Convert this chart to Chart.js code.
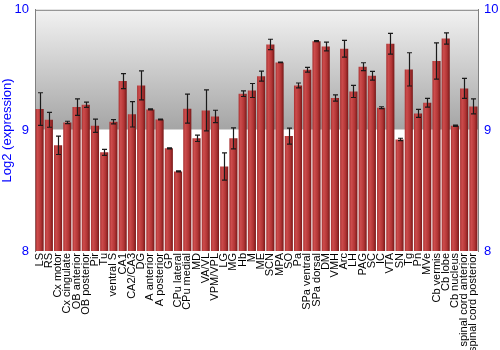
<!DOCTYPE html>
<html>
<head>
<meta charset="utf-8">
<script src="https://cdn.jsdelivr.net/npm/chart.js@4"></script>
<style>
  html, body { margin: 0; padding: 0; background: #fff; }
  #wrap { width: 500px; height: 350px; }
</style>
</head>
<body>
<div id="wrap"><canvas id="chart"></canvas></div>
<script>
let regions = ['LS', 'RS', 'Cx motor', 'Cx cingulate', 'OB anterior', 'OB posterior', 'Pir', 'Tu',
  'ventral S', 'CA1', 'CA2/CA3', 'DG', 'A anterior', 'A posterior', 'GP', 'CPu lateral', 'CPu medial',
  'MD', 'VA/VL', 'VPM/VPL', 'LG', 'MG', 'Hb', 'M', 'ME', 'SCN', 'MPA', 'SO', 'Pa', 'SPa ventral',
  'SPa dorsal', 'DM', 'VMH', 'Arc', 'LH', 'PAG', 'SC', 'IC', 'VTA', 'SN', 'Tg', 'Pn', 'MVe',
  'Cb vermis', 'Cb lobe', 'Cb nucleus', 'spinal cord anterior', 'spinal cord posterior'];

let expression = [9.177, 9.088, 8.876, 9.066, 9.193, 9.213, 9.039, 8.818,
  9.072, 9.409, 9.133, 9.373, 9.174, 9.091, 8.851, 8.660, 9.180,
  8.934, 9.166, 9.116, 8.700, 8.934, 9.304, 9.331, 9.450, 9.713, 9.564, 8.953, 9.373, 9.503,
  9.740, 9.696, 9.268, 9.677, 9.323, 9.528, 9.453, 9.188, 9.718, 8.925, 9.506, 9.141, 9.229,
  9.575, 9.762, 9.039, 9.348, 9.199];

let errors = [0.135, 0.062, 0.076, 0.010, 0.068, 0.022, 0.055, 0.025,
  0.018, 0.062, 0.105, 0.120, 0.005, 0.003, 0.004, 0.004, 0.120,
  0.026, 0.170, 0.051, 0.113, 0.087, 0.023, 0.058, 0.041, 0.043, 0.003, 0.066, 0.020, 0.020,
  0.004, 0.036, 0.026, 0.069, 0.050, 0.033, 0.036, 0.008, 0.086, 0.010, 0.138, 0.033, 0.036,
  0.150, 0.047, 0.005, 0.083, 0.062];

let yTicks = [8, 9, 10];

let blue = '#0000ff';
let axisGrey = '#808080';

// plot background: grey gradient above 9, white below, white line at 9
let backgroundPlugin = {
  id: 'plotBackground',
  beforeDraw(chart) {
    let ctx = chart.ctx;
    let area = chart.chartArea;
    let y9 = chart.scales.y.getPixelForValue(9);
    let grad = ctx.createLinearGradient(0, area.top, 0, y9);
    grad.addColorStop(0, '#f2f2f2');
    grad.addColorStop(1, '#a4a4a4');
    ctx.save();
    ctx.fillStyle = grad;
    ctx.fillRect(area.left, area.top, area.right - area.left, y9 - area.top);
    ctx.strokeStyle = '#ffffff';
    ctx.lineWidth = 2;
    ctx.beginPath();
    ctx.moveTo(area.left, y9);
    ctx.lineTo(area.right, y9);
    ctx.stroke();
    ctx.strokeStyle = axisGrey;
    ctx.lineWidth = 1;
    ctx.beginPath();
    ctx.moveTo(area.left, area.top + 0.5);
    ctx.lineTo(area.right, area.top + 0.5);
    ctx.stroke();
    ctx.restore();
  }
};

// error bars drawn from the errors array through the y scale
let errorBarPlugin = {
  id: 'errorBars',
  afterDatasetsDraw(chart) {
    let ctx = chart.ctx;
    let xs = chart.scales.x;
    let ys = chart.scales.y;
    ctx.save();
    ctx.strokeStyle = '#1a1a1a';
    ctx.lineWidth = 1.2;
    expression.forEach((v, i) => {
      let x = Math.round(xs.getPixelForValue(i)) + 0.5;
      let top = ys.getPixelForValue(v + errors[i]);
      let bottom = ys.getPixelForValue(v - errors[i]);
      ctx.beginPath();
      ctx.moveTo(x, top);
      ctx.lineTo(x, bottom);
      ctx.moveTo(x - 2.5, top);
      ctx.lineTo(x + 2.5, top);
      ctx.moveTo(x - 2.5, bottom);
      ctx.lineTo(x + 2.5, bottom);
      ctx.stroke();
    });
    ctx.restore();
  }
};

function barFill(context) {
  let chart = context.chart;
  let xs = chart.scales.x;
  if (!xs || !chart.chartArea) return '#b03434';
  let x = xs.getPixelForValue(context.dataIndex);
  let w = (chart.chartArea.right - chart.chartArea.left) / regions.length * 0.88;
  let grad = chart.ctx.createLinearGradient(x - w / 2, 0, x + w / 2, 0);
  grad.addColorStop(0, '#a83030');
  grad.addColorStop(0.25, '#cc4c4c');
  grad.addColorStop(0.65, '#b23535');
  grad.addColorStop(1, '#771818');
  return grad;
}

new Chart('chart', {
  type: 'bar',
  data: {
    labels: regions,
    datasets: [{
      data: expression,
      base: 8,
      backgroundColor: barFill,
      borderWidth: 0,
      barPercentage: 0.88,
      categoryPercentage: 1.0
    }]
  },
  options: {
    responsive: true,
    maintainAspectRatio: false,
    animation: false,
    layout: { padding: { top: 9, right: 0, left: 0, bottom: 0 } },
    plugins: {
      legend: { display: false },
      tooltip: { enabled: false }
    },
    scales: {
      x: {
        grid: { display: false, drawTicks: false },
        border: { display: false },
        ticks: {
          autoSkip: false,
          minRotation: 90,
          maxRotation: 90,
          padding: 2,
          color: '#000',
          font: { family: 'Liberation Sans, Arial, sans-serif', size: 11 }
        },
        afterFit(scale) { scale.height = 99; }
      },
      y: {
        position: 'left',
        min: 8,
        max: 10,
        afterBuildTicks(scale) { scale.ticks = yTicks.map(v => ({ value: v })); },
        grid: { display: false, drawTicks: true, tickLength: 4, tickColor: axisGrey },
        border: { display: true, color: axisGrey },
        ticks: {
          color: blue,
          padding: 2,
          font: { family: 'Liberation Sans, Arial, sans-serif', size: 13 }
        },
        title: {
          display: true,
          text: 'Log2 (expression)',
          color: blue,
          padding: 0,
          font: { family: 'Liberation Sans, Arial, sans-serif', size: 13 }
        },
        afterFit(scale) { scale.width = 35; }
      },
      y2: {
        position: 'right',
        min: 8,
        max: 10,
        afterBuildTicks(scale) { scale.ticks = yTicks.map(v => ({ value: v })); },
        grid: { display: false, drawTicks: true, tickLength: 4, tickColor: axisGrey },
        border: { display: true, color: axisGrey },
        ticks: {
          color: blue,
          padding: 2,
          font: { family: 'Liberation Sans, Arial, sans-serif', size: 13 }
        },
        afterFit(scale) { scale.width = 22; }
      }
    }
  },
  plugins: [backgroundPlugin, errorBarPlugin]
});
</script>
</body>
</html>
